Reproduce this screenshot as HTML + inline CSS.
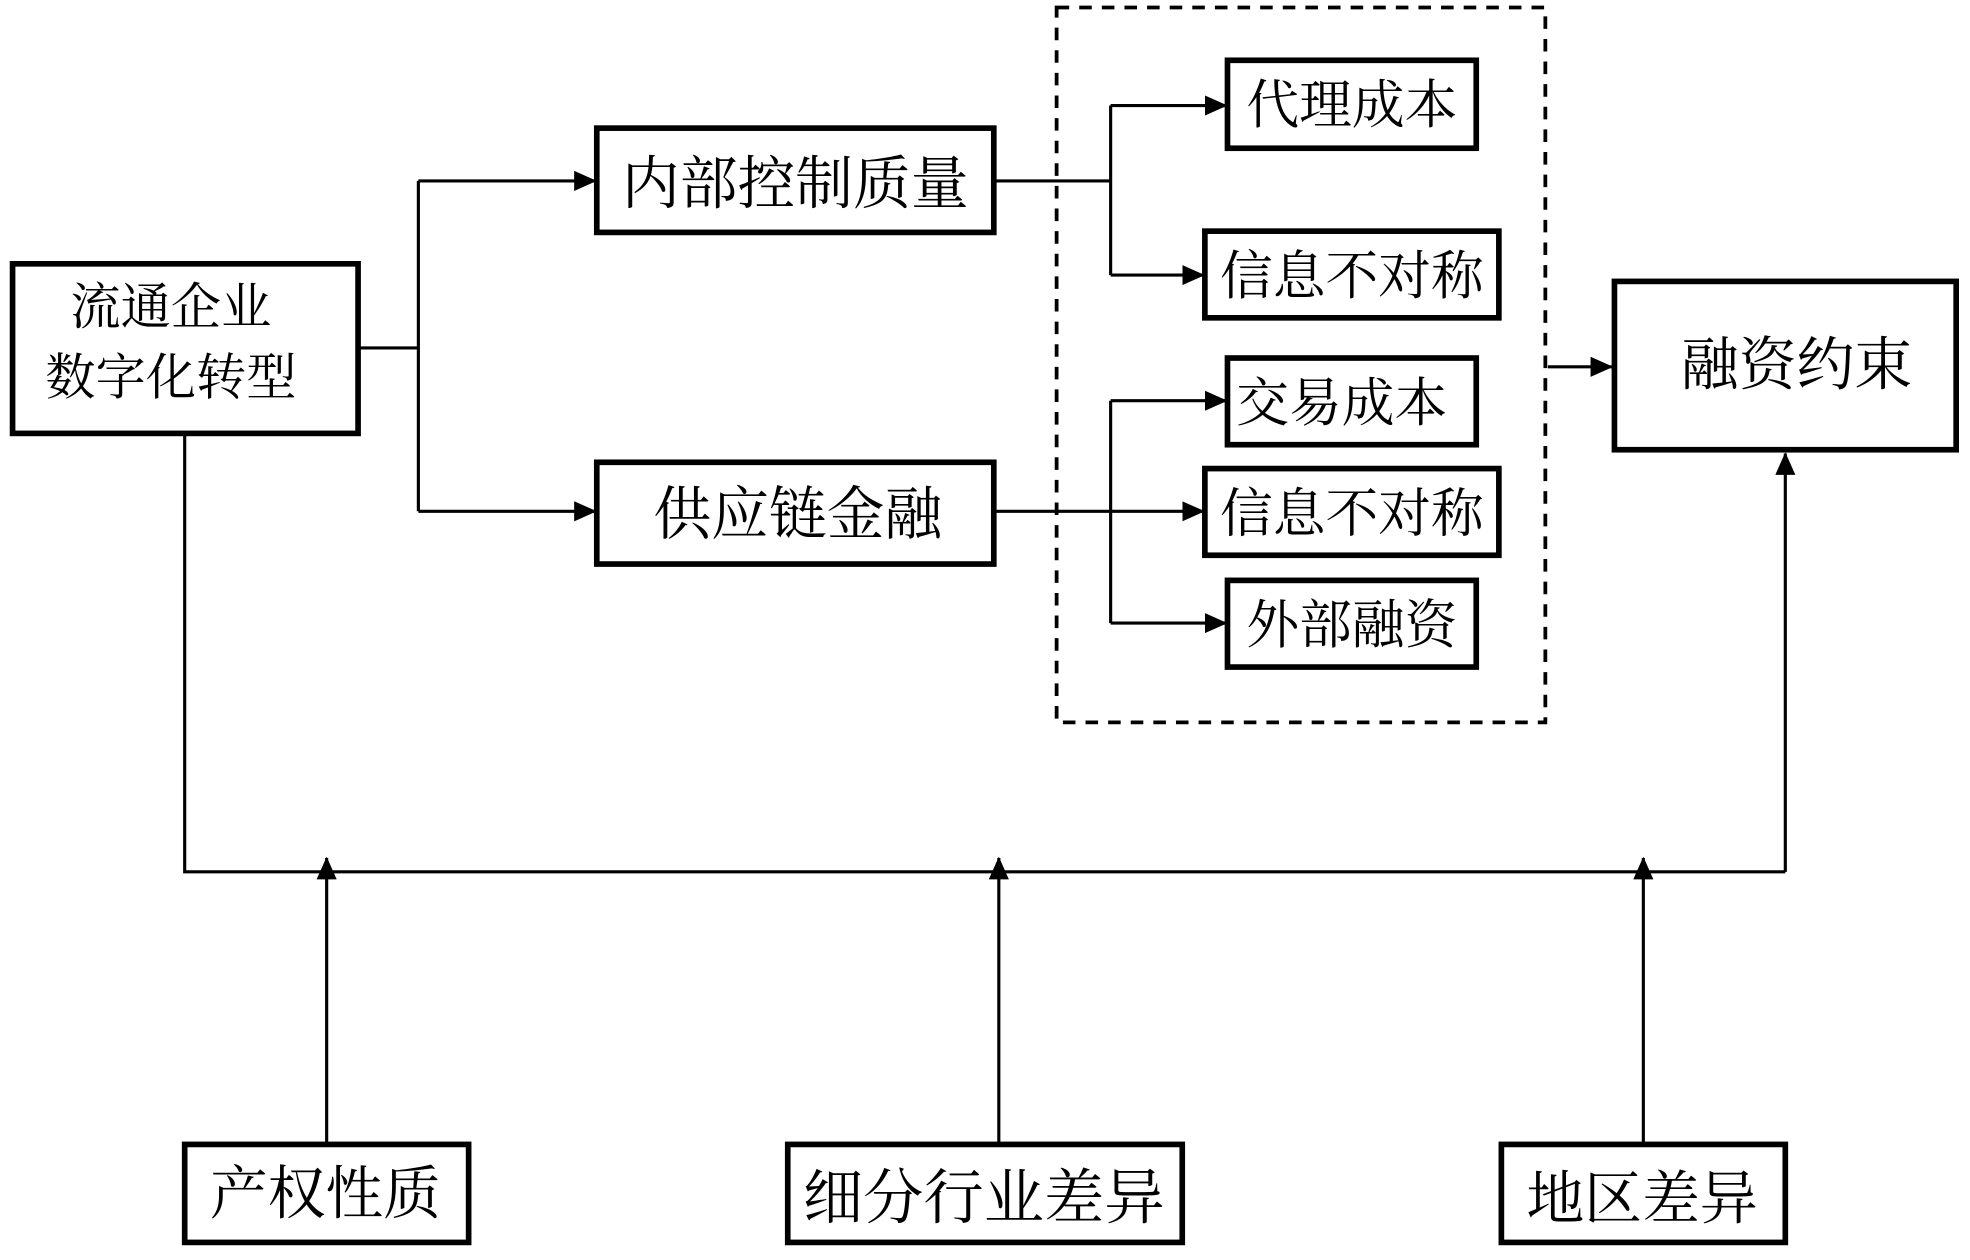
<!DOCTYPE html>
<html><head><meta charset="utf-8"><style>
html,body{margin:0;padding:0;background:#fff;width:1970px;height:1260px;overflow:hidden}
svg{display:block}
text{font-family:"Liberation Serif","Noto Serif CJK SC",serif;fill:#000}
</style></head><body>
<svg width="1970" height="1260" viewBox="0 0 1568 1003" preserveAspectRatio="none" xmlns="http://www.w3.org/2000/svg">
<defs>
<marker id="a" markerWidth="10" markerHeight="10" refX="9" refY="5" orient="auto" markerUnits="userSpaceOnUse">
<path d="M0,0 L10,5 L0,10 z" fill="#000"/></marker>
<marker id="b" markerWidth="18" markerHeight="16" refX="17" refY="8" orient="auto" markerUnits="userSpaceOnUse">
<path d="M0,0 L18,8 L0,16 z" fill="#000"/></marker>
</defs>
<g fill="none" stroke="#000" stroke-width="4.5">
<rect x="10" y="210" width="275" height="135"/>
<rect x="475" y="102" width="316" height="83"/>
<rect x="475" y="368" width="316" height="81"/>
<rect x="977" y="48" width="198" height="70"/>
<rect x="959" y="184" width="234" height="69"/>
<rect x="977" y="285" width="198" height="69"/>
<rect x="959" y="373" width="234" height="69"/>
<rect x="977" y="462" width="198" height="69"/>
<rect x="1285" y="224" width="272" height="134"/>
<rect x="147" y="911" width="226" height="78"/>
<rect x="627" y="911" width="314" height="78"/>
<rect x="1195" y="911" width="226" height="78"/>
</g>
<rect x="841" y="6" width="389" height="569" fill="none" stroke="#000" stroke-width="3" stroke-dasharray="10,8"/>
<g fill="none" stroke="#000" stroke-width="2.5">
<polyline points="286,277 333,277"/>
<polyline points="333,144 333,407"/>
<line x1="333" y1="144" x2="474" y2="144" marker-end="url(#b)"/>
<line x1="333" y1="407" x2="474" y2="407" marker-end="url(#b)"/>
<line x1="792" y1="144" x2="884" y2="144"/>
<polyline points="884,84 884,219"/>
<line x1="884" y1="84" x2="976" y2="84" marker-end="url(#b)"/>
<line x1="884" y1="219" x2="958" y2="219" marker-end="url(#b)"/>
<line x1="792" y1="407" x2="958" y2="407" marker-end="url(#b)"/>
<polyline points="884,319 884,496"/>
<line x1="884" y1="319" x2="976" y2="319" marker-end="url(#b)"/>
<line x1="884" y1="496" x2="976" y2="496" marker-end="url(#b)"/>
<line x1="1232" y1="292" x2="1283" y2="292" marker-end="url(#b)"/>
<polyline points="147,346 147,694 1421,694"/>
<line x1="1421" y1="694" x2="1421" y2="361" marker-end="url(#b)"/>
<line x1="260" y1="910" x2="260" y2="683" marker-end="url(#b)"/>
<line x1="795" y1="910" x2="795" y2="683" marker-end="url(#b)"/>
<line x1="1308" y1="910" x2="1308" y2="683" marker-end="url(#b)"/>
</g>
<g text-anchor="middle">
<text x="136" y="258" font-size="40">流通企业</text>
<text x="136" y="314" font-size="40">数字化转型</text>
<text x="633" y="162" font-size="46">内部控制质量</text>
<text x="635" y="425" font-size="46">供应链金融</text>
<text x="1076" y="98" font-size="42">代理成本</text>
<text x="1076" y="234" font-size="42">信息不对称</text>
<text x="1068" y="335" font-size="42">交易成本</text>
<text x="1076" y="423" font-size="42">信息不对称</text>
<text x="1076" y="512" font-size="42">外部融资</text>
<text x="1430" y="306" font-size="46">融资约束</text>
<text x="259" y="966" font-size="46">产权性质</text>
<text x="783" y="970" font-size="48">细分行业差异</text>
<text x="1307" y="970" font-size="46">地区差异</text>
</g>
</svg>
</body></html>
